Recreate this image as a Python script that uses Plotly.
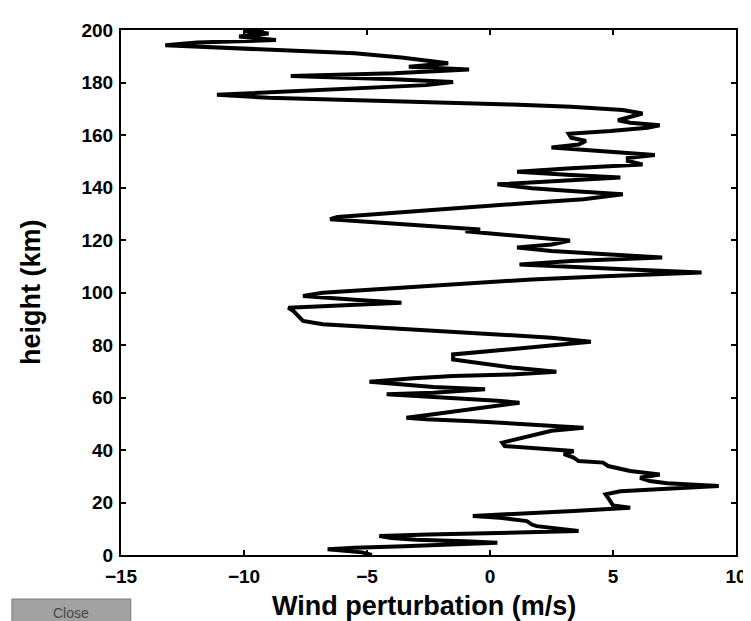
import plotly.graph_objects as go

height_km = [
    0.0, 1.0, 2.2, 2.8, 3.3, 4.0, 4.7, 5.2, 5.8, 6.5, 7.2, 7.8, 8.2, 8.6, 9.1,
    11.0, 11.6, 12.9, 14.2, 14.9, 16.1, 16.8, 17.6, 18.0, 18.9, 20.6, 21.8, 23.1,
    24.3, 25.2, 26.3, 27.3, 28.2, 29.4, 30.7, 32.0, 33.9, 35.2, 35.8, 37.1, 38.4,
    39.6, 40.9, 41.5, 42.8, 44.0, 45.0, 47.3, 48.5, 49.8, 51.0, 51.7, 52.3, 53.6,
    55.5, 56.8, 58.0, 58.8, 59.9, 61.2, 61.8, 63.1, 64.0, 65.0, 66.0, 67.3, 68.2,
    68.8, 69.8, 71.4, 73.3, 74.5, 76.4, 77.7, 79.0, 80.3, 81.2,
    82.8, 84.1, 85.4, 86.7, 87.9, 89.2, 91.1, 93.0, 94.2, 95.1, 96.1, 97.2, 98.7,
    99.9, 101.2, 102.5, 103.7, 105.0, 106.3, 107.6, 108.8, 110.1, 110.7, 112.0,
    113.3, 114.5, 115.8, 117.1, 118.3, 119.8, 121.5, 122.5, 123.3, 124.0, 125.3,
    126.6, 127.9, 128.8, 130.4, 131.7, 133.0, 134.2, 135.5, 137.4, 138.7, 139.7,
    141.2, 142.3, 143.8, 144.8, 146.0, 147.3, 148.8, 150.1, 151.2, 152.4, 153.6,
    155.2, 156.4, 157.7, 159.0, 160.5, 161.5, 162.8, 163.7, 164.7, 165.6, 166.9,
    168.2, 169.5, 170.8, 171.6, 172.3, 173.3, 174.2, 175.3, 176.4, 177.7, 179.0,
    180.2, 181.2, 182.5, 183.5, 185.0, 186.0, 187.3, 189.5, 191.1, 192.4, 193.3,
    194.2, 195.2, 196.2, 197.5, 198.7, 199.6, 200.0,
]

wind_ms = [
    -4.8, -5.2, -6.6, -5.5, -3.5, -1.5, 0.3, -1.0, -3.0, -4.0, -4.5, -2.5, 0.0, 2.5, 3.6,
    1.9, 1.7, 1.5, 0.4, -0.7, 1.5, 3.4, 5.0, 5.7, 5.0, 4.9, 4.8, 4.7,
    5.3, 7.2, 9.3, 7.2, 6.5, 6.1, 6.9, 5.7, 4.8, 4.6, 3.6, 3.4, 3.0,
    3.4, 1.5, 0.6, 0.5, 1.0, 1.4, 2.5, 3.8, 1.7, -0.7, -2.6, -3.4, -2.3,
    -0.7, 0.3, 1.2, 0.3, -1.5, -4.2, -2.3, -0.2, -2.3, -3.9, -4.9, -3.1, -1.5,
    0.9, 2.7, 0.9, -0.7, -1.5, -1.5, 0.1, 1.7, 3.3, 4.1,
    2.5, 0.1, -2.3, -4.7, -6.8, -7.6, -7.8, -8.0, -8.2, -6.3, -3.6, -5.5, -7.6,
    -6.8, -4.7, -2.3, -0.7, 1.7, 4.9, 8.6, 5.7, 2.5, 1.2, 3.3,
    7.0, 4.9, 2.5, 1.1, 2.5, 3.25, 1.0, 0.0, -1.0, -0.4, -2.3,
    -4.7, -6.5, -6.2, -3.9, -2.3, 0.1, 1.7, 3.8, 5.4, 3.3, 1.7,
    0.3, 2.5, 5.3, 3.3, 1.1, 3.3, 6.2, 5.6, 5.6, 6.7, 4.9,
    2.5, 3.6, 3.9, 3.3, 3.2, 4.9, 6.4, 6.9, 5.7, 5.2, 5.7,
    6.2, 5.4, 3.3, 0.9, -2.0, -4.7, -9.0, -11.1, -8.7, -5.8, -2.6,
    -1.5, -3.9, -8.1, -3.9, -0.85, -3.3, -1.7, -3.6, -5.5, -9.0, -11.3,
    -13.2, -11.9, -8.7, -10.2, -9.0, -10.0, -9.2,
]

x_tickvals = [-15, -10, -5, 0, 5, 10]
y_tickvals = [0, 20, 40, 60, 80, 100, 120, 140, 160, 180, 200]

fig = go.Figure()
fig.add_trace(go.Scatter(
    x=wind_ms, y=height_km, mode="lines",
    line=dict(color="black", width=4),
    showlegend=False, hoverinfo="skip",
))

tickfont = dict(family="Liberation Sans", size=19, color="black", weight="bold")
axis_common = dict(
    showgrid=False, zeroline=False, showline=True, linecolor="black", linewidth=2,
    mirror="allticks", ticks="inside", ticklen=5, tickwidth=1.5, tickcolor="black",
    tickfont=tickfont, tickformat="d",
)

fig.update_layout(
    width=751, height=621,
    margin=dict(l=113, r=12, t=22, b=74),
    paper_bgcolor="white", plot_bgcolor="white",
    xaxis=dict(range=[-15, 10], tickvals=x_tickvals, ticklabelstandoff=3, **axis_common),
    yaxis=dict(range=[0, 200], tickvals=y_tickvals, ticklabelstandoff=2, **axis_common),
    font=dict(family="Liberation Sans", color="black"),
)

fig.add_annotation(
    text="<b>Wind perturbation (m/s)</b>", xref="paper", yref="paper",
    x=0.493, y=-0.097, showarrow=False, xanchor="center", yanchor="middle",
    font=dict(family="Liberation Sans", size=27, color="black"),
)
fig.add_annotation(
    text="<b>height (km)</b>", xref="paper", yref="paper",
    x=-0.147, y=0.5, showarrow=False, textangle=-90, xanchor="center", yanchor="middle",
    font=dict(family="Liberation Sans", size=27, color="black"),
)

# Close button
fig.add_shape(
    type="rect", xref="paper", yref="paper",
    x0=(2 - 113) / 626, x1=(123 - 113) / 626,
    y0=(547 - 620) / 525, y1=(547 - 591) / 525,
    fillcolor="#a2a2a2", line=dict(color="#7a7a7a", width=1),
)
fig.add_annotation(
    text="Close", xref="paper", yref="paper",
    x=(62 - 113) / 626, y=(547 - 605) / 525, showarrow=False,
    xanchor="center", yanchor="middle",
    font=dict(family="Liberation Sans", size=14, color="#474747"),
)

fig.write_html("out.html")
